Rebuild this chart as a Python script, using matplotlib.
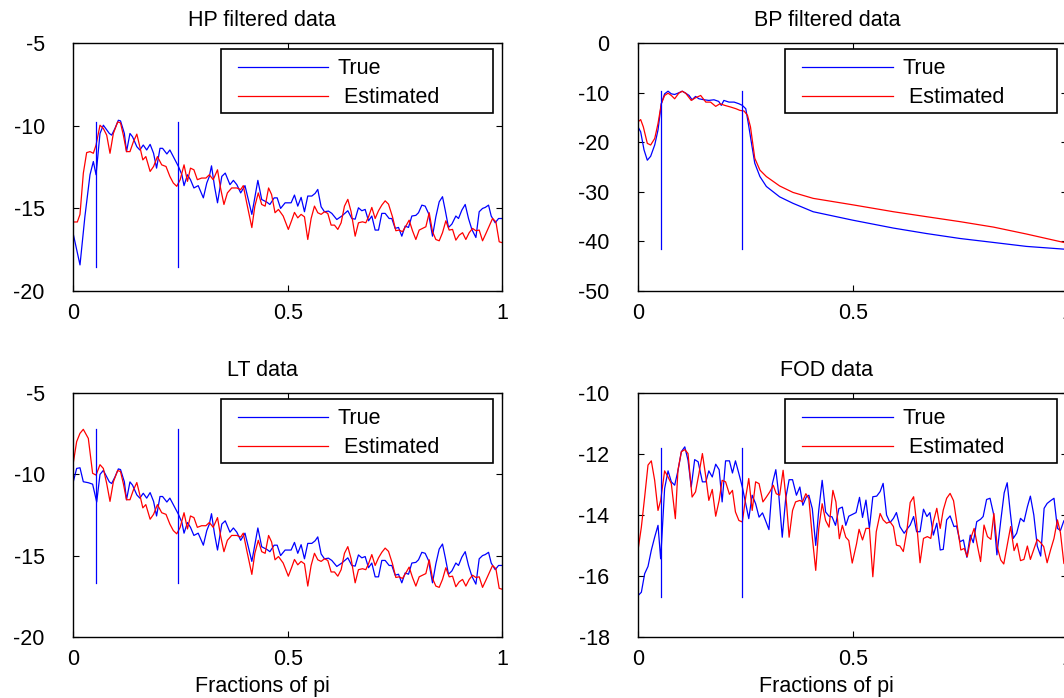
import matplotlib
matplotlib.use("Agg")
import matplotlib.pyplot as plt
from matplotlib.patches import Rectangle

plt.rcParams['font.family'] = ['Liberation Sans', 'DejaVu Sans']
plt.rcParams['axes.unicode_minus'] = False

# =========================================================
# DATA (x in fractions of pi, y in dB)
# =========================================================
band_edges = [0.054, 0.243]

# HP filtered data
hp_true_x = [0, .0156, .027, .0389, .0467, .053, .0622, .07, .084, .0894,
             .097, .105, .110, .119, .124, .132, .138, .148, .155, .163,
             .171, .179, .187, .194, .202, .208, .218, .225, .235, .245,
             .253, .258, .266, .273, .281, .291, .303, .311, .317, .322,
             .329, .336, .346, .354, .365, .373, .381, .390, .400, .416,
             .430, .439, .451, .458, .468, .475, .483,
             .4935, .5075, .5153, .523, .5308, .5386, .5463, .5557, .5634, .5696,
             .5774, .5852, .5945, .6023, .6139, .6256, .6396, .6489, .6567, .6644,
             .6722, .68, .6878, .6955, .7033, .7111, .7188, .7266, .7359, .7421,
             .7499, .7577, .7654, .7732, .781, .7888, .7981, .8043, .8121, .8198,
             .8276, .8369, .8447, .8525, .8602, .8665, .8742, .882, .8913, .8975,
             .9053, .9131, .9208, .9286, .938, .9457, .9535, .9597, .9675, .9737,
             .983, .9908, 1.0]
hp_true_y = [-16.56, -18.42, -15.5, -12.96, -12.16, -12.96, -10.46, -9.96, -10.46, -10.56,
             -10.16, -9.66, -9.70, -10.46, -11.56, -10.46, -10.66, -11.26, -11.46, -11.16,
             -11.46, -11.12, -11.66, -12.56, -11.36, -11.36, -11.70, -11.46, -11.96, -12.46,
             -12.96, -13.62, -12.96, -13.26, -13.76, -13.62, -14.36, -13.46, -13.06, -12.42,
             -13.66, -14.66, -13.06, -12.86, -13.56, -13.30, -13.56, -14.06, -13.62, -15.36,
             -13.30, -14.46, -14.62, -14.76, -14.36, -14.36, -15.0,
             -14.66, -14.66, -14.19, -14.86, -14.33, -15.20, -14.25, -14.25, -14.09, -13.85,
             -14.90, -15.20, -15.16, -15.30, -15.67, -15.46, -15.14, -15.61, -15.65, -14.96,
             -15.14, -15.06, -15.75, -15.46, -16.31, -16.31, -15.30, -15.30, -15.61, -15.61,
             -16.21, -16.15, -16.68, -16.07, -16.15, -15.46, -15.42, -15.26, -14.80, -14.86,
             -15.30, -16.68, -15.51, -14.60, -14.29, -15.10, -16.15, -15.95, -15.46, -15.61,
             -15.10, -14.76, -15.61, -16.27, -16.76, -15.20, -15.0, -14.94, -14.80, -15.46,
             -15.87, -15.61, -15.61]
hp_est_x = [0, .0094, .0156, .0234, .0311, .0389, .0467, .053, .0622, .07,
            .0778, .0855, .0933, .1034, .110, .1166, .124, .132, .140, .148,
            .155, .162, .169, .179, .187, .196, .206, .216, .225, .233,
            .241, .249, .258, .266, .273, .281, .289, .299, .309, .317,
            .326, .336, .343, .351, .359, .369, .381, .390, .396, .404,
            .416, .423, .431, .439, .447, .455, .462, .470, .478, .489,
            .501, .509, .5153, .523, .5308, .5386, .5463, .5541, .5619, .5696,
            .5774, .5852, .5929, .6007, .6085, .6163, .624, .6318, .6396, .6473,
            .6567, .6644, .6738, .6815, .6878, .6955, .7033, .7111, .7188, .7266,
            .7344, .7437, .7515, .7592, .767, .7748, .7825, .7903, .7981, .8059,
            .8136, .8214, .8292, .8369, .8447, .8525, .8602, .868, .8758, .8836,
            .8913, .8991, .9069, .9146, .9224, .9302, .938, .9457, .9535, .9613,
            .969, .9768, .9846, .9923, 1.0]
hp_est_y = [-15.82, -15.82, -15.36, -12.86, -11.62, -11.56, -11.66, -11.16, -9.96, -10.16,
            -10.56, -11.66, -10.46, -9.76, -9.82, -10.56, -11.56, -11.56, -10.96, -10.5,
            -11.26, -12.06, -11.86, -12.76, -12.46, -11.86, -12.36, -12.46, -13.06, -13.46,
            -13.66, -13.26, -12.36, -13.36, -12.56, -12.66, -13.26, -13.16, -13.16, -12.96,
            -13.26, -12.66, -13.76, -14.76, -14.06, -13.76, -13.76, -13.86, -13.62, -14.66,
            -16.16, -14.86, -14.06, -14.76, -14.86, -13.76, -14.16, -15.26, -15.06, -15.46,
            -16.27, -15.71, -15.24, -15.57, -15.36, -15.51, -16.88, -15.61, -14.86, -15.26,
            -15.36, -15.20, -15.30, -16.01, -16.01, -16.27, -15.87, -14.86, -14.45, -15.20,
            -16.68, -15.87, -15.81, -15.87, -15.51, -14.94, -15.61, -15.14, -14.80, -14.54,
            -14.74, -15.51, -16.35, -16.31, -16.41, -16.07, -15.71, -16.35, -16.88, -16.31,
            -16.21, -16.11, -15.26, -16.41, -16.88, -16.96, -16.47, -15.75, -16.31, -16.27,
            -16.92, -16.62, -16.47, -16.88, -16.47, -16.21, -16.35, -16.31, -16.96, -16.52,
            -16.07, -15.61, -15.81, -17.02, -17.08]

# LT data: differs from HP only below ~0.08, same spectrum afterwards
lt_true_head_x = [0, .0078, .0156, .0233, .035, .045, .0545, .0622, .07]
lt_true_head_y = [-10.45, -9.63, -9.59, -10.45, -10.51, -10.6, -11.7, -10.0, -9.75]
lt_est_head_x = [0, .0078, .0155, .0233, .035, .045, .053, .0622, .07]
lt_est_head_y = [-9.28, -7.98, -7.47, -7.22, -7.78, -9.93, -10.04, -9.4, -9.63]

# BP filtered data
bp_true_x = [0, .0062, .014, .0217, .0295, .039, .0466, .0543, .062, .070,
             .0776, .0854, .093, .103, .111, .119, .126, .134, .142, .154,
             .165, .177, .188, .194, .200, .212, .224, .235, .243, .251,
             .257, .265, .272, .284, .299, .330, .361, .408, .5, .595,
             .672, .75, .828, .905, 1.0]
bp_true_y = [-16.87, -17.87, -21.5, -23.6, -22.8, -20.5, -17.5, -12.2, -10.2, -9.67,
             -10.2, -10.33, -10.07, -9.67, -10.07, -10.53, -11.4, -10.73, -11.2, -11.4,
             -11.53, -11.4, -11.73, -12.53, -11.53, -11.87, -11.87, -12.2, -12.53, -13.2,
             -16.2, -20.5, -24.2, -26.9, -28.9, -31.0, -32.3, -34.0, -35.7, -37.3,
             -38.4, -39.4, -40.2, -41.0, -41.6]
bp_est_x = [0, .0062, .0124, .0217, .0295, .039, .0466, .0543, .062, .070,
            .0776, .0854, .095, .103, .111, .124, .134, .146, .158, .169,
            .181, .191, .202, .216, .228, .237, .247, .255, .262, .272,
            .284, .299, .330, .361, .408, .5, .595, .672, .75, .828,
            .905, .992, 1.0]
bp_est_y = [-15.87, -15.4, -16.87, -20.2, -20.53, -19.2, -16.2, -12.2, -10.53, -10.07,
            -10.53, -11.2, -10.07, -9.67, -10.07, -11.53, -11.0, -10.53, -11.87, -11.87,
            -12.73, -12.2, -12.53, -12.87, -13.2, -13.53, -13.67, -14.53, -16.87, -23.2,
            -25.6, -26.9, -28.8, -30.1, -31.3, -32.6, -34.0, -35.0, -36.0, -37.1,
            -38.5, -40.2, -40.4]

# FOD data
fod_true_x = [0, .0078, .0155, .0233, .031, .0388, .0466, .0528, .062, .070,
              .0776, .0854, .093, .101, .109, .1165, .124, .132, .140, .150,
              .158, .165, .173, .181, .189, .196, .204, .213, .220, .227,
              .235, .243, .251, .258, .266, .274, .282, .290, .297, .305,
              .313, .321, .328, .336, .344, .352, .360, .369, .377, .384,
              .392, .398, .406, .414, .421, .429, .437, .445, .452, .460,
              .468, .476, .484, .491,
              .508, .516, .523, .531, .539, .547, .556, .564, .571, .579,
              .587, .595, .602, .610, .620, .628, .634, .642, .649, .657,
              .665, .673, .680, .688, .696, .704, .711, .719, .727, .736,
              .742, .750, .758, .766, .774, .781, .789, .798, .804, .812,
              .820, .828, .836, .845, .853, .860, .867, .874, .882, .891,
              .899, .907, .914, .922, .930, .938, .946, .953, .961, .969,
              .977, .984, .992, 1.0]
fod_true_y = [-16.65, -16.54, -15.93, -15.69, -15.16, -14.73, -14.34, -15.44, -13.13, -12.55,
              -12.91, -13.02, -12.55, -11.92, -11.76, -12.2, -13.08, -12.18, -12.25, -12.91,
              -12.91, -12.55, -12.75, -12.33, -12.51, -13.57, -12.22, -12.22, -12.62, -12.22,
              -12.64, -13.08, -13.63, -14.12, -13.35, -13.63, -14.07, -13.93, -14.18, -14.48,
              -12.97, -12.51, -13.35, -14.73, -13.46, -12.84, -12.84, -13.35, -13.08, -13.68,
              -13.41, -13.35, -13.79, -15.0, -13.85, -12.86, -13.9, -14.04, -14.06, -14.34,
              -13.79, -13.74, -14.34, -14.04,
              -13.92, -13.42, -14.08, -13.51, -14.44, -13.4, -13.38, -13.23, -12.96, -14.0,
              -14.25, -14.11, -13.92, -14.38, -14.6, -14.44, -14.33, -14.05, -14.55, -14.55,
              -13.81, -14.05, -13.92, -14.66, -14.27, -15.15, -15.13, -14.16, -14.03, -14.38,
              -14.36, -14.88, -14.82, -15.39, -14.66, -14.91, -14.22, -14.14, -14.05, -13.49,
              -13.45, -13.95, -15.31, -14.19, -13.27, -12.94, -13.89, -14.77, -14.6, -14.11,
              -14.22, -13.73, -13.38, -14.0, -15.02, -15.35, -13.78, -13.62, -13.53, -13.45,
              -14.44, -14.51, -14.19, -14.1]
fod_est_x = [0, .0078, .0155, .0233, .031, .0388, .0466, .0528, .062, .070,
             .0776, .087, .093, .101, .109, .1165, .126, .134, .142, .150,
             .158, .165, .173, .181, .189, .196, .204, .213, .220, .227,
             .235, .243, .251, .258, .266, .274, .282, .291, .299, .307,
             .315, .322, .330, .338, .346, .352, .360, .367, .377, .383,
             .391, .398, .406, .414, .421, .429, .437, .445, .454, .461,
             .469, .476, .484, .491, .499,
             .509, .515, .523, .531, .539, .547, .555, .564, .571, .579,
             .587, .595, .602, .610, .618, .626, .634, .642, .649, .657,
             .665, .674, .682, .688, .696, .704, .711, .719, .727, .735,
             .744, .752, .760, .767, .775, .783, .791, .798, .806, .814,
             .822, .829, .837, .845, .852, .860, .868, .876, .883, .891,
             .899, .907, .914, .922, .930, .938, .945, .953, .961, .969,
             .977, .984, .992, 1.0]
fod_est_y = [-15.16, -14.4, -13.41, -12.36, -12.22, -12.86, -13.85, -13.52, -12.55, -12.75,
             -12.97, -14.12, -12.53, -11.92, -11.85, -11.98, -13.41, -13.24, -12.64, -11.98,
             -12.75, -13.52, -13.16, -14.04, -13.52, -12.86, -12.91, -13.32, -13.19, -13.9,
             -14.18, -14.23, -13.41, -12.8, -13.85, -12.91, -12.97, -13.57, -13.41, -13.24,
             -13.02, -13.3, -13.35, -12.53, -13.63, -14.73, -13.85, -13.57, -13.52, -13.57,
             -13.3, -13.46, -14.73, -15.82, -14.45, -13.63, -14.18, -14.4, -13.19, -13.57,
             -14.78, -14.34, -14.73, -14.84, -15.58,
             -14.95, -14.47, -14.82, -14.44, -14.44, -16.03, -14.55, -13.95, -14.16, -14.27,
             -14.22, -14.38, -14.99, -15.02, -15.2, -14.55, -13.59, -13.4, -14.27, -15.57,
             -14.77, -14.71, -14.77, -14.22, -13.78, -14.44, -13.84, -13.45, -13.29, -13.53,
             -14.38, -15.15, -15.1, -15.37, -14.77, -14.44, -15.04, -15.53, -14.33, -14.71,
             -14.8, -13.95, -15.06, -15.48, -15.61, -14.99, -14.38, -15.17, -14.93, -15.5,
             -15.46, -15.02, -15.46, -15.13, -14.8, -14.91, -15.04, -15.57, -15.15, -14.77,
             -14.16, -14.58, -15.59, -15.7]

# vertical band markers: (bottom, top) per panel
hp_marker = (-18.55, -9.75)
bp_marker = (-41.6, -9.6)
lt_marker = (-16.7, -7.2)
fod_marker = (-16.7, -11.8)

# LT = own head + shared HP tail
lt_true_x = lt_true_head_x + [x for x in hp_true_x if x > 0.08]
lt_true_y = lt_true_head_y + [y for x, y in zip(hp_true_x, hp_true_y) if x > 0.08]
lt_est_x = lt_est_head_x + [x for x in hp_est_x if x > 0.075]
lt_est_y = lt_est_head_y + [y for x, y in zip(hp_est_x, hp_est_y) if x > 0.075]

# =========================================================
# FIGURE
# =========================================================
W, H = 1064, 698
fig = plt.figure(figsize=(W / 100, H / 100), dpi=100)
FS = 15.5

def make_axes(left_px, top_px, width_px, height_px):
    return fig.add_axes([left_px / W, 1 - (top_px + height_px) / H, width_px / W, height_px / H])

def panel(ax, h_px, title, tx, ty, ex, ey, ylim, yticks, marker, xlabel=False):
    ax.plot(tx, ty, color='#0000ff', lw=0.9, label='True')
    ax.plot(ex, ey, color='#ff0000', lw=0.9, label=' Estimated')
    for b in band_edges:
        ax.plot([b, b], marker, color='#0000ff', lw=0.9)
    ax.set_xlim(0, 1)
    ax.set_ylim(*ylim)
    ax.set_xticks([0, 0.5, 1])
    ax.set_xticklabels(['0', '0.5', '1'])
    ax.set_yticks(yticks)
    ax.set_yticklabels([f"{v:g}" for v in yticks])
    ax.tick_params(direction='in', length=4, width=0.8, top=True, right=True, labelsize=FS)
    ax.tick_params(axis='y', pad=20.5)
    ax.tick_params(axis='x', pad=8.5)
    for s in ax.spines.values():
        s.set_linewidth(1.0)
    ax.text(0.44, 1 + 17 / h_px, title, transform=ax.transAxes, ha='center', va='baseline', fontsize=FS)
    if xlabel:
        ax.text(0.44, -55 / h_px, 'Fractions of pi', transform=ax.transAxes,
                ha='center', va='baseline', fontsize=FS)
    # legend box (MATLAB style)
    top = 1 - 5.7 / h_px
    bot = 1 - 70 / h_px
    ax.add_patch(Rectangle((0.343, bot), 0.977 - 0.343, top - bot, transform=ax.transAxes,
                           fill=True, facecolor='white', edgecolor='black', lw=1.2, zorder=5))
    leg = ax.legend(loc='upper left', bbox_to_anchor=(0.383, 1 - 15 / h_px), frameon=False,
                    fontsize=FS, handlelength=4.2, handletextpad=0.45, labelspacing=0.36,
                    borderpad=0, borderaxespad=0)
    leg.set_zorder(6)

ax1 = make_axes(73.3, 43.3, 429.2, 247.7)
panel(ax1, 247.7, 'HP filtered data', hp_true_x, hp_true_y, hp_est_x, hp_est_y,
      (-20, -5), [-20, -15, -10, -5], hp_marker)

ax2 = make_axes(638, 43.3, 429.3, 247.7)
panel(ax2, 247.7, 'BP filtered data', bp_true_x, bp_true_y, bp_est_x, bp_est_y,
      (-50, 0), [-50, -40, -30, -20, -10, 0], bp_marker)

ax3 = make_axes(73.3, 393.3, 429.2, 243.4)
panel(ax3, 243.4, 'LT data', lt_true_x, lt_true_y, lt_est_x, lt_est_y,
      (-20, -5), [-20, -15, -10, -5], lt_marker, xlabel=True)

ax4 = make_axes(638, 393.3, 429.3, 243.4)
panel(ax4, 243.4, 'FOD data', fod_true_x, fod_true_y, fod_est_x, fod_est_y,
      (-18, -10), [-18, -16, -14, -12, -10], fod_marker, xlabel=True)

fig.savefig('out.png', dpi=100, facecolor='white')
